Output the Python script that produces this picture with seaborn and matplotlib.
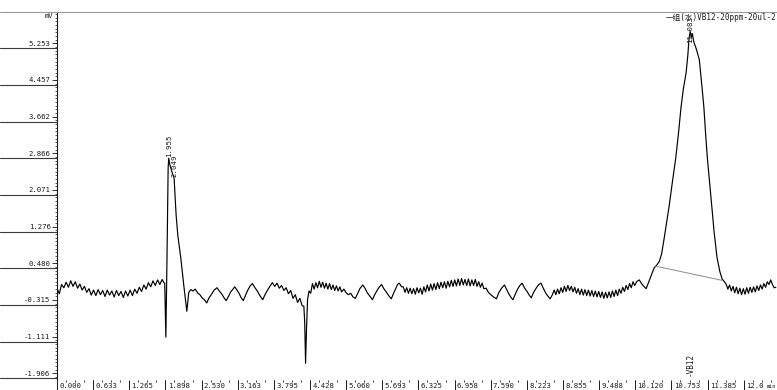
import numpy as np
import pandas as pd
import matplotlib
matplotlib.use("Agg")
import matplotlib.pyplot as plt
import seaborn as sns
from matplotlib.ticker import MultipleLocator
from matplotlib.transforms import ScaledTranslation, blended_transform_factory

# ---- chromatogram trace (time in min, signal in mV), split by region ----
t_front = [0.00, 0.04, 0.08, 0.12, 0.16, 0.20, 0.24, 0.28, 0.32, 0.36, 0.40, 0.44, 0.48, 0.52,
           0.56, 0.60, 0.64, 0.68, 0.72, 0.76, 0.80, 0.84, 0.88, 0.92, 0.96, 1.00, 1.04, 1.08,
           1.12, 1.16, 1.20, 1.24, 1.28, 1.32, 1.36, 1.40, 1.44, 1.48, 1.52, 1.56, 1.60, 1.64,
           1.68, 1.72, 1.76, 1.80, 1.84, 1.87]
mv_front = [-0.06, -0.18, 0.02, -0.05, 0.07, -0.04, 0.10, -0.02, 0.08, -0.06, 0.03, -0.10, -0.02, -0.15,
            -0.07, -0.21, -0.10, -0.22, -0.09, -0.20, -0.11, -0.24, -0.10, -0.21, -0.12, -0.25, -0.11, -0.22,
            -0.13, -0.26, -0.12, -0.23, -0.10, -0.22, -0.08, -0.17, -0.04, -0.13, 0.01, -0.08, 0.06, -0.03,
            0.10, 0.00, 0.12, 0.02, 0.13, 0.06]

t_peak1 = [1.885, 1.905, 1.925, 1.945, 1.955, 1.975, 2.010, 2.049, 2.065, 2.085, 2.114, 2.167,
           2.219, 2.272, 2.306, 2.34]
mv_peak1 = [0.05, -1.12, 0.60, 2.55, 2.76, 2.62, 2.47, 2.33, 1.95, 1.52, 1.09, 0.59,
            0.00, -0.56, -0.15, -0.09]

t_wave1 = [2.38, 2.42, 2.46, 2.50, 2.54, 2.58, 2.62, 2.66, 2.71, 2.75, 2.80, 2.84, 2.88, 2.92,
           2.96, 3.00, 3.04, 3.08, 3.11, 3.15, 3.19, 3.22, 3.26, 3.30, 3.34, 3.38, 3.42, 3.46,
           3.51, 3.55, 3.60, 3.64, 3.69, 3.73, 3.77, 3.81, 3.85, 3.89, 3.93, 3.97, 4.01, 4.05,
           4.09, 4.13, 4.17, 4.21, 4.25, 4.29, 4.32, 4.335, 4.350, 4.365, 4.385, 4.41, 4.44]
mv_wave1 = [-0.12, -0.08, -0.16, -0.20, -0.27, -0.31, -0.38, -0.27, -0.18, -0.10, -0.05, -0.12, -0.18, -0.26,
            -0.33, -0.24, -0.14, -0.08, -0.03, -0.10, -0.18, -0.26, -0.33, -0.21, -0.10, -0.01, 0.04, -0.04,
            -0.13, -0.22, -0.31, -0.20, -0.09, -0.01, 0.06, -0.02, 0.05, -0.06, 0.00, -0.11, -0.05, -0.18,
            -0.11, -0.28, -0.20, -0.37, -0.28, -0.44, -0.45, -0.80, -1.69, -1.00, -0.30, -0.12, -0.17]

t_mid = [4.47, 4.50, 4.53, 4.56, 4.59, 4.62, 4.65, 4.68, 4.71, 4.74, 4.77, 4.80, 4.83, 4.86,
         4.89, 4.92, 4.95, 4.98, 5.02, 5.06, 5.10]
mv_mid = [0.04, -0.08, 0.06, -0.05, 0.09, -0.04, 0.07, -0.06, 0.05, -0.08, 0.04, -0.09, 0.01, -0.11,
          -0.01, -0.12, -0.03, -0.14, -0.08, -0.16, -0.20]

t_wave2 = [5.14, 5.18, 5.22, 5.26, 5.30, 5.35, 5.39, 5.43, 5.48, 5.52, 5.56, 5.61, 5.65, 5.68,
           5.72, 5.77, 5.81, 5.85, 5.89, 5.93, 5.96, 5.99, 6.03]
mv_wave2 = [-0.17, -0.25, -0.28, -0.18, -0.07, 0.01, -0.06, -0.16, -0.24, -0.31, -0.20, -0.09, -0.02, 0.02,
            -0.07, -0.16, -0.23, -0.29, -0.17, -0.06, 0.02, 0.05, -0.03]

t_flat = [6.06, 6.09, 6.12, 6.15, 6.18, 6.21, 6.24, 6.27, 6.30, 6.33, 6.36, 6.39, 6.42, 6.45,
          6.48, 6.51, 6.54, 6.57, 6.60, 6.63, 6.66, 6.69, 6.72, 6.75, 6.78, 6.81, 6.84, 6.87,
          6.90, 6.93, 6.96, 6.99, 7.02, 7.05, 7.08, 7.11, 7.14, 7.17, 7.20, 7.23, 7.26, 7.29,
          7.32, 7.35, 7.38, 7.41, 7.44, 7.47]
mv_flat = [-0.03, -0.15, -0.05, -0.17, -0.06, -0.18, -0.07, -0.19, -0.05, -0.16, -0.06, -0.19, -0.03, -0.14,
           0.01, -0.12, 0.03, -0.10, 0.04, -0.09, 0.06, -0.07, 0.07, -0.05, 0.08, -0.06, 0.09, -0.03,
           0.11, -0.02, 0.12, -0.01, 0.14, 0.00, 0.15, 0.01, 0.13, 0.00, 0.14, -0.01, 0.12, 0.00,
           0.13, -0.02, 0.08, -0.04, 0.05, -0.07]

t_wave3 = [7.51, 7.55, 7.60, 7.64, 7.69, 7.73, 7.78, 7.83, 7.87, 7.91, 7.95, 7.98, 8.02, 8.06,
           8.10, 8.14, 8.18, 8.23, 8.27, 8.30, 8.34, 8.39, 8.43, 8.47, 8.51, 8.55, 8.59, 8.63, 8.67]
mv_wave3 = [-0.06, -0.15, -0.21, -0.25, -0.29, -0.16, -0.06, 0.01, -0.09, -0.19, -0.27, -0.31, -0.19, -0.08,
            0.00, 0.05, -0.05, -0.14, -0.22, -0.27, -0.15, -0.05, 0.02, 0.05, -0.06, -0.16, -0.23, -0.29, -0.20]

t_pre = [8.70, 8.73, 8.76, 8.79, 8.82, 8.85, 8.88, 8.91, 8.94, 8.97, 9.00, 9.03, 9.06, 9.09,
         9.12, 9.15, 9.18, 9.21, 9.24, 9.27, 9.30, 9.33, 9.36, 9.39, 9.42, 9.45, 9.48, 9.51,
         9.54, 9.57, 9.60, 9.63, 9.66, 9.69, 9.72, 9.75, 9.78, 9.81, 9.84, 9.87, 9.90, 9.93,
         9.96, 9.99, 10.02, 10.05, 10.08, 10.11, 10.15, 10.19, 10.23, 10.27, 10.31]
mv_pre = [-0.10, -0.20, -0.08, -0.18, -0.05, -0.15, -0.02, -0.13, 0.00, -0.11, -0.02, -0.14, -0.04, -0.17,
          -0.07, -0.20, -0.08, -0.21, -0.09, -0.22, -0.10, -0.23, -0.11, -0.24, -0.12, -0.25, -0.13, -0.26,
          -0.14, -0.28, -0.15, -0.27, -0.14, -0.26, -0.12, -0.24, -0.10, -0.22, -0.08, -0.17, -0.04, -0.13,
          0.00, -0.09, 0.04, -0.05, 0.08, 0.00, 0.09, 0.12, 0.04, -0.02, -0.07]

t_peak2 = [10.35, 10.40, 10.45, 10.50, 10.54, 10.58, 10.62, 10.66, 10.71, 10.77, 10.83, 10.88,
           10.92, 10.96, 11.01, 11.04, 11.06, 11.08, 11.10, 11.12, 11.14, 11.19, 11.24, 11.28,
           11.32, 11.35, 11.38, 11.42, 11.46, 11.50, 11.55, 11.60, 11.64, 11.68]
mv_peak2 = [0.06, 0.22, 0.38, 0.45, 0.52, 0.68, 0.98, 1.30, 1.70, 2.25, 2.78, 3.35,
            3.86, 4.25, 4.62, 5.00, 5.35, 5.51, 5.38, 5.46, 5.30, 5.12, 4.90, 4.40,
            3.87, 3.30, 2.78, 2.25, 1.70, 1.15, 0.61, 0.30, 0.14, 0.08]

t_tail = [11.71, 11.74, 11.77, 11.80, 11.83, 11.86, 11.89, 11.92, 11.95, 11.98, 12.01, 12.04,
          12.07, 12.10, 12.13, 12.16, 12.19, 12.22, 12.25, 12.28, 12.31, 12.34, 12.37, 12.40,
          12.43, 12.46, 12.49, 12.52, 12.55, 12.58]
mv_tail = [0.03, -0.08, 0.01, -0.12, -0.02, -0.16, -0.04, -0.18, -0.06, -0.20, -0.07, -0.19,
           -0.05, -0.17, -0.04, -0.15, -0.03, -0.14, -0.01, -0.11, 0.01, -0.08, 0.04, -0.04,
           0.08, 0.02, 0.12, 0.02, -0.05, -0.04]

# integration baseline under the VB12 peak
base_t = [10.47, 11.64]
base_mv = [0.42, 0.11]

# peak annotations
peak_times = [1.955, 2.049, 11.08]
peak_mv = [2.76, 2.33, 5.51]
peak_labels = ["1.955", "2.049", "11.083"]
compound_name = "VB12"
compound_time = 11.08

# axis ticks
ytick_vals = [-1.906, -1.111, -0.315, 0.480, 1.276, 2.071, 2.866, 3.662, 4.457, 5.253]
ytick_labels = ["-1.906", "-1.111", "-0.315", "0.480", "1.276", "2.071", "2.866", "3.662", "4.457", "5.253"]
xtick_vals = [0.000, 0.633, 1.265, 1.898, 2.530, 3.163, 3.795, 4.428, 5.060, 5.693, 6.325,
              6.958, 7.590, 8.223, 8.855, 9.488, 10.120, 10.753, 11.385, 12.018]
xtick_labels = ["0.000", "0.633", "1.265", "1.898", "2.530", "3.163", "3.795", "4.428", "5.060",
                "5.693", "6.325", "6.958", "7.590", "8.223", "8.855", "9.488", "10.120", "10.753",
                "11.385", "12.0"]
title = "一组(水)VB12-20ppm-20ul-2"

sns.set_style("white")
plt.rcParams['font.family'] = ['DejaVu Sans Mono', 'Noto Sans CJK SC']
ink = "#1a1a1a"

W, H = 777, 390
fig = plt.figure(figsize=(W / 100, H / 100), dpi=100)
ax_left, ax_top, ax_bottom = 57, 12, 380
ax = fig.add_axes([ax_left / W, (H - ax_bottom) / H, (W - ax_left) / W, (ax_bottom - ax_top) / H])

trace = pd.DataFrame({
    "time": np.concatenate([t_front, t_peak1, t_wave1, t_mid, t_wave2, t_flat,
                            t_wave3, t_pre, t_peak2, t_tail]),
    "mV": np.concatenate([mv_front, mv_peak1, mv_wave1, mv_mid, mv_wave2, mv_flat,
                          mv_wave3, mv_pre, mv_peak2, mv_tail]),
})
sns.lineplot(data=trace, x="time", y="mV", ax=ax, color="black", lw=0.85,
             sort=False, estimator=None)
sns.lineplot(x=base_t, y=base_mv, ax=ax, color="#8a8a8a", lw=0.7, estimator=None)

ax.set_xlim(0, 12.6)
ax.set_ylim(-2.051, 5.931)
ax.set_xlabel("")
ax.set_ylabel("")

# spines
for side in ("right", "bottom"):
    ax.spines[side].set_visible(False)
ax.spines["left"].set_color(ink)
ax.spines["left"].set_linewidth(0.8)
ax.spines["top"].set_color("#9a9a9a")
ax.spines["top"].set_linewidth(0.8)

# y axis: labelled ticks plus fine minor ticks
ax.set_yticks(ytick_vals)
ax.set_yticklabels(ytick_labels, fontsize=5.2, color=ink)
ax.yaxis.set_minor_locator(MultipleLocator(0.07955, offset=-1.906))
ax.tick_params(axis="y", which="major", left=True, direction="out", length=3.5, width=0.6,
               pad=1.2, color=ink)
ax.tick_params(axis="y", which="minor", left=True, direction="out", length=1.8, width=0.5,
               color=ink)

# separators across the label column
yblend = blended_transform_factory(ax.transAxes, ax.transData)
xoff = -ax_left / (W - ax_left)
for v in ytick_vals:
    ax.plot([xoff, 0], [v - 0.11, v - 0.11], transform=yblend, color="#3a3a3a",
            lw=0.8, clip_on=False)
ax.plot([xoff, 0], [1, 1], transform=ax.transAxes, color="#9a9a9a", lw=0.8, clip_on=False)

# x axis: bar ticks with left-aligned labels in the bottom strip
ax.set_xticks(xtick_vals)
ax.set_xticklabels([""] * len(xtick_vals))
ax.xaxis.set_minor_locator(MultipleLocator(0.63253 / 4))
ax.tick_params(axis="x", which="major", bottom=True, direction="out", length=7.5, width=0.7,
               color=ink)
ax.tick_params(axis="x", which="minor", bottom=True, direction="out", length=1.3, width=0.6,
               color=ink)
xblend = blended_transform_factory(ax.transData, ax.transAxes)
shift = ScaledTranslation(1.6 / 72, 0, fig.dpi_scale_trans)
for v, lab in zip(xtick_vals, xtick_labels):
    ax.text(v, -3.0 / (ax_bottom - ax_top), lab, transform=xblend + shift, ha="left", va="top",
            fontsize=5.2, color=ink, clip_on=False)
fig.text(776 / W, 1 - 386.5 / H, "min", ha="right", va="center", fontsize=3.8, color=ink)

# unit and sample name
fig.text(53 / W, 1 - 15.5 / H, "mV", ha="right", va="center", fontsize=5.0, color=ink)
fig.text(776 / W, 1 - 13.5 / H, title, ha="right", va="top", fontsize=5.5, color=ink)

# retention-time labels and compound name
offsets = [0.02, 0.02, -0.26]
for t, v, lab, off in zip(peak_times, peak_mv, peak_labels, offsets):
    ax.text(t, v + off, lab, rotation=90, ha="center", va="bottom", fontsize=5.3, color=ink)
ax.text(compound_time, -1.965, "-" + compound_name, rotation=90, ha="center", va="bottom",
        fontsize=5.5, color=ink)

fig.savefig("out.png", dpi=100)
